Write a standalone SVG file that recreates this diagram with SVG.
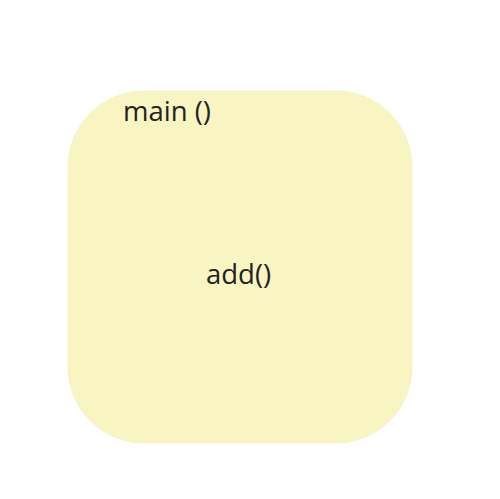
<svg xmlns="http://www.w3.org/2000/svg" width="500" height="499" viewBox="0 0 500 499">
  <style>
    .box { fill: #f9f5c2; stroke: #ede9b4; stroke-width: 0.5; }
    .lbl { font-family: "Open Sans", "DejaVu Sans", sans-serif; font-size: 27.5px; fill: #222222; }
  </style>
  <rect width="500" height="499" fill="#ffffff"/>
  <g id="main">
    <rect class="box" x="68" y="91" width="344" height="352" rx="76" ry="76"/>
    <text class="lbl" x="123" y="121">main ()</text>
  </g>
  <g id="add">
    <text class="lbl" x="206" y="284">add()</text>
  </g>
  <g id="connectors"/>
</svg>
